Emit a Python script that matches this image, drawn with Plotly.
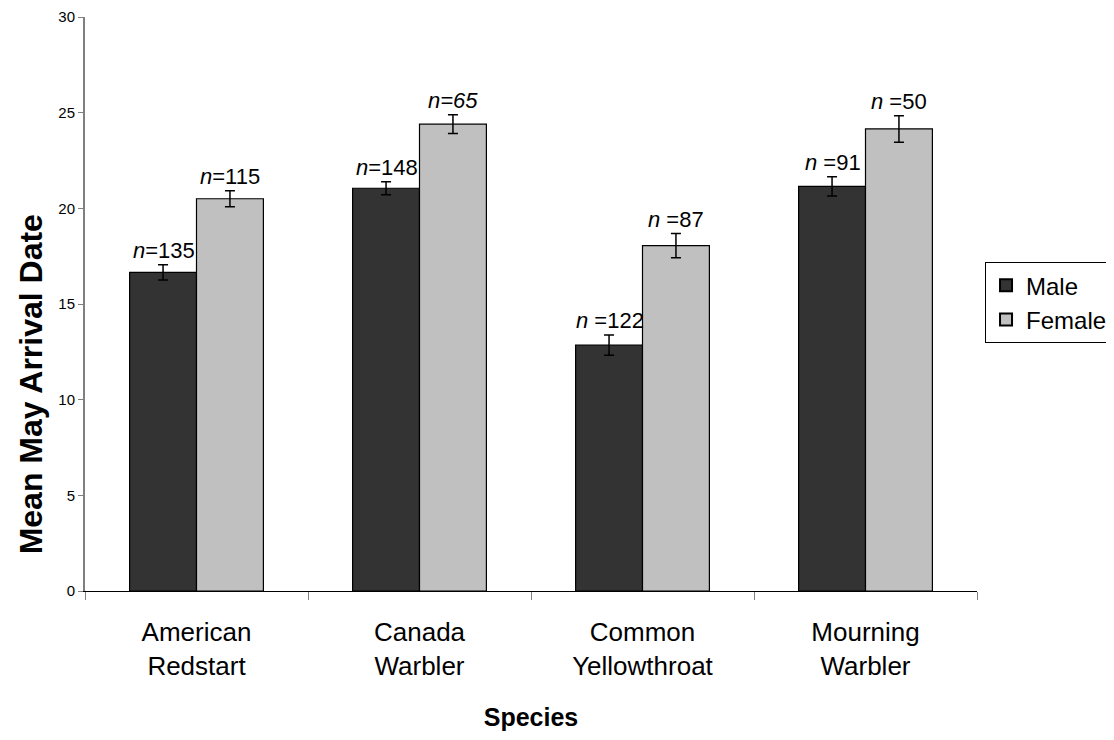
import plotly.graph_objects as go

species = ["American<br>Redstart", "Canada<br>Warbler", "Common<br>Yellowthroat", "Mourning<br>Warbler"]
male_mean = [16.65, 21.05, 12.85, 21.15]
male_err = [0.40, 0.34, 0.53, 0.50]
female_mean = [20.5, 24.4, 18.05, 24.15]
female_err = [0.42, 0.49, 0.63, 0.69]
male_labels = ["<i>n</i>=135", "<i>n</i>=148", "<i>n</i> =122", "<i>n</i> =91"]
female_labels = ["<i>n</i>=115", "<i>n=65</i>", "<i>n</i> =87", "<i>n</i> =50"]

FONT = "Liberation Sans, Arial, sans-serif"

fig = go.Figure()
fig.add_trace(go.Bar(
    name="Male", x=species, y=male_mean,
    marker=dict(color="#333333", line=dict(color="black", width=1.2)),
    error_y=dict(type="data", array=male_err, color="black", thickness=1.5, width=5),
))
fig.add_trace(go.Bar(
    name="Female", x=species, y=female_mean,
    marker=dict(color="#c0c0c0", line=dict(color="black", width=1.2)),
    error_y=dict(type="data", array=female_err, color="black", thickness=1.5, width=5),
))

bar_half = 33
for i, sp in enumerate(species):
    fig.add_annotation(x=sp, y=male_mean[i] + male_err[i], text=male_labels[i],
                       xshift=-bar_half, yshift=0, yanchor="bottom", showarrow=False,
                       font=dict(size=22, color="black", family=FONT))
    fig.add_annotation(x=sp, y=female_mean[i] + female_err[i], text=female_labels[i],
                       xshift=bar_half, yshift=0, yanchor="bottom", showarrow=False,
                       font=dict(size=22, color="black", family=FONT))

# y-axis title placed as annotation
fig.add_annotation(xref="paper", yref="paper", x=0, y=0.36, xshift=-54,
                   text="<b>Mean May Arrival Date</b>", textangle=-90,
                   showarrow=False, xanchor="center", yanchor="middle",
                   font=dict(size=32, color="black", family=FONT))

fig.update_layout(
    width=1106, height=732,
    margin=dict(l=77, r=137, t=9, b=149, autoexpand=False),
    paper_bgcolor="white", plot_bgcolor="white",
    barmode="group", bargap=0.4, bargroupgap=0,
    font=dict(family=FONT, color="black"),
    showlegend=True,
    legend=dict(x=1.009, y=0.573, xanchor="left", yanchor="top",
                bordercolor="black", borderwidth=1, font=dict(size=24),
                itemsizing="constant", itemwidth=30, tracegroupgap=0),
    xaxis=dict(
        showline=True, linecolor="black", linewidth=1,
        ticks="outside", tickson="boundaries", ticklen=8, tickcolor="#808080",
        tickfont=dict(size=26), showgrid=False, ticklabelstandoff=18,
        title=dict(text="<b>Species</b>", font=dict(size=25), standoff=28),
    ),
    yaxis=dict(
        range=[0, 30], dtick=5, showline=True, linecolor="#808080", linewidth=2,
        ticks="outside", ticklen=5, tickcolor="#808080",
        tickfont=dict(size=15), showgrid=False, zeroline=False,
    ),
)

fig.write_html("out.html")
